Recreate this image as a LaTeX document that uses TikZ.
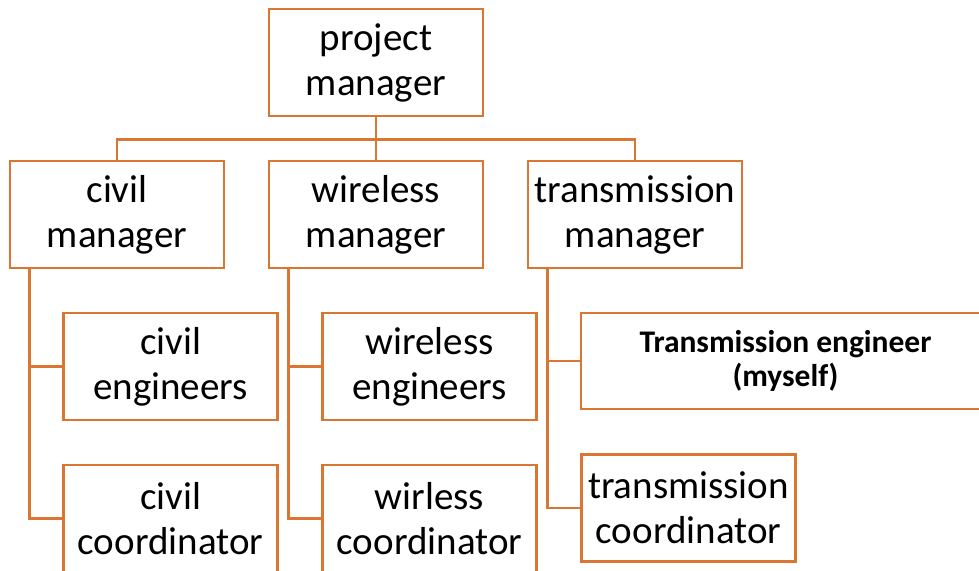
\documentclass[tikz,border=0pt]{standalone}
\usepackage{fontspec}
\setmainfont{Carlito}
\usetikzlibrary{positioning,calc}
\definecolor{orgline}{RGB}{216,118,50}

\begin{document}
\begin{tikzpicture}[x=1pt,y=-1pt,
  box/.style={draw=orgline, line width=2.6pt, minimum width=214pt, minimum height=107pt,
    inner sep=0pt, align=center, font=\fontsize{39}{45}\selectfont},
  mybox/.style={box, minimum width=409pt, minimum height=96pt,
    font=\fontsize{31.5}{34}\selectfont\bfseries},
  link/.style={draw=orgline, line width=2.6pt}]
  \useasboundingbox (0,0) rectangle (979,570);
  \clip (0,0) rectangle (979,570);

  % Top level
  \node[box] (pm) at (376,62.5) {project\\manager};

  % Managers
  \node[box] (cm) at (117,214.5) {civil\\manager};
  \node[box] (wm) at (376,214.5) {wireless\\manager};
  \node[box] (tm) at (635,214.5) {transmission\\manager};

  % Civil team
  \node[box] (ce) at (170.5,366.5) {civil\\engineers};
  \node[box] (cc) at (170.5,518.5) {civil\\coordinator};

  % Wireless team
  \node[box] (we) at (429.5,366.5) {wireless\\engineers};
  \node[box] (wc) at (429.5,518.5) {wirless\\coordinator};

  % Transmission team
  \node[mybox] (te) at (785.5,361) {Transmission engineer\\(myself)};
  \node[box] (tc) at (688.5,508) {transmission\\coordinator};

  % Links
  \draw[link] (pm.south) -- ++(0,22) -| (cm.north);
  \draw[link] (pm.south) -- (wm.north);
  \draw[link] (pm.south) -- ++(0,22) -| (tm.north);

  \draw[link] ([xshift=21pt]cm.south west) |- (ce.west);
  \draw[link] ([xshift=21pt]cm.south west) |- (cc.west);
  \draw[link] ([xshift=21pt]wm.south west) |- (we.west);
  \draw[link] ([xshift=21pt]wm.south west) |- (wc.west);
  \draw[link] ([xshift=21pt]tm.south west) |- (te.west);
  \draw[link] ([xshift=21pt]tm.south west) |- (tc.west);
\end{tikzpicture}
\end{document}
